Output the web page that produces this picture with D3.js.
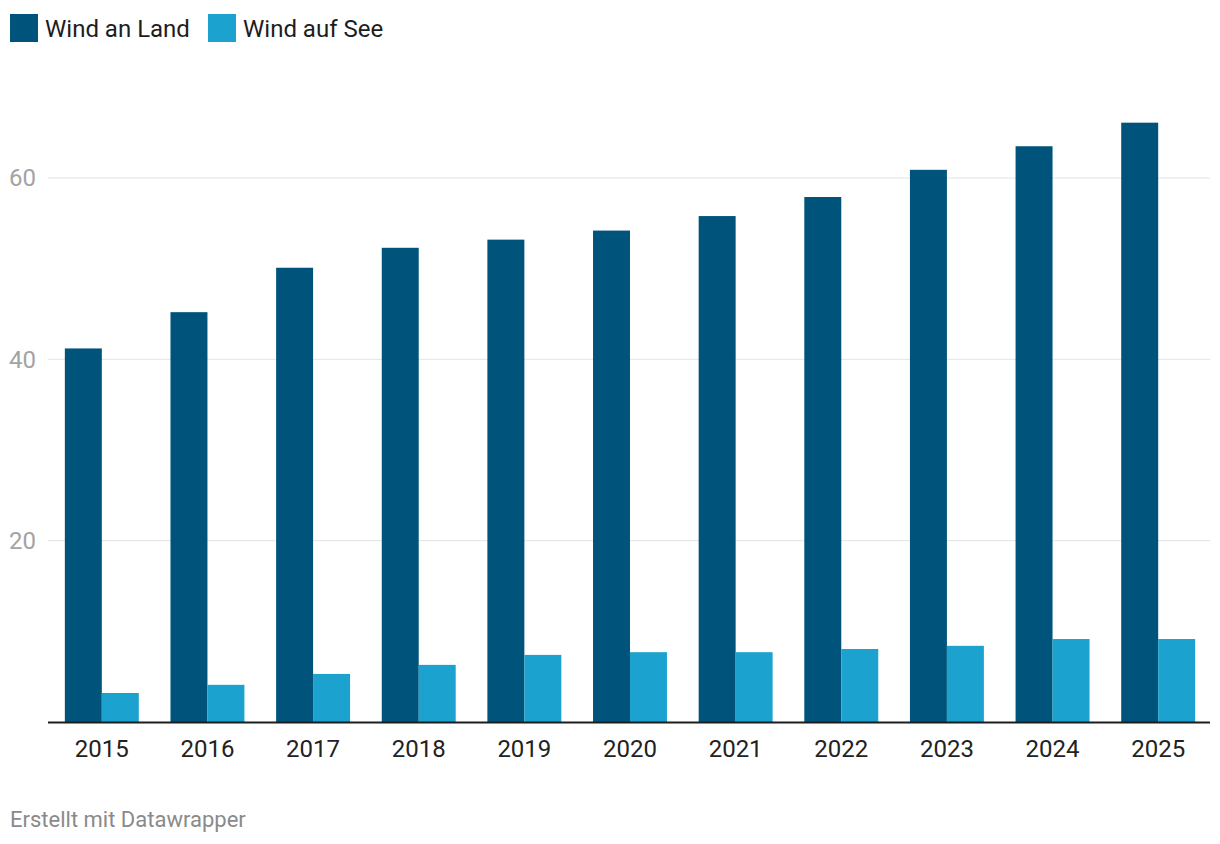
<!DOCTYPE html>
<html>
<head>
<meta charset="utf-8">
<script src="https://cdn.jsdelivr.net/npm/d3@7"></script>
<style>
  body { margin: 0; background: #fff; font-family: Roboto, "Noto Sans", sans-serif; }
</style>
</head>
<body>
<svg id="chart"></svg>
<script>
// Data
const years = ["2015", "2016", "2017", "2018", "2019", "2020", "2021", "2022", "2023", "2024", "2025"];
const windLand = [41.2, 45.2, 50.1, 52.3, 53.2, 54.2, 55.8, 57.9, 60.9, 63.5, 66.1];
const windSee = [3.2, 4.1, 5.3, 6.3, 7.4, 7.7, 7.7, 8.05, 8.4, 9.15, 9.15];
const seriesNames = ["Wind an Land", "Wind auf See"];
const yTicks = [20, 40, 60];

const width = 1220;
const height = 844;
const colors = ["#00547b", "#1ba2cf"];

const svg = d3.select("#chart")
    .attr("width", width)
    .attr("height", height);

// Scales
const x = d3.scaleBand()
    .domain(years)
    .range([49, 1211])
    .paddingInner(0.3)
    .paddingOuter(0.15);

const xSub = d3.scaleBand()
    .domain(seriesNames)
    .range([0, x.bandwidth()]);

const y = d3.scaleLinear()
    .domain([0, 70])
    .range([722, 722 - 70 * 9.067]);

// Gridlines + y labels
const grid = svg.append("g");
grid.selectAll("line")
    .data(yTicks)
    .enter()
    .append("line")
    .attr("x1", 48)
    .attr("x2", 1210)
    .attr("y1", d => y(d))
    .attr("y2", d => y(d))
    .attr("stroke", "#e3e3e3")
    .attr("stroke-width", 1);

grid.selectAll("text")
    .data(yTicks)
    .enter()
    .append("text")
    .attr("x", 9)
    .attr("y", d => y(d) + 8.5)
    .attr("fill", "#a3a3a3")
    .attr("font-size", 24)
    .text(d => d);

// Bars
const rows = years.map((yr, i) => ({ year: yr, values: [windLand[i], windSee[i]] }));

const groups = svg.selectAll(".group")
    .data(rows)
    .enter()
    .append("g")
    .attr("transform", d => `translate(${x(d.year)},0)`);

groups.selectAll("rect")
    .data(d => d.values.map((v, j) => ({ key: seriesNames[j], value: v, j: j })))
    .enter()
    .append("rect")
    .attr("x", d => xSub(d.key))
    .attr("width", xSub.bandwidth())
    .attr("y", d => y(d.value))
    .attr("height", d => y(0) - y(d.value))
    .attr("fill", d => colors[d.j]);

// X axis
svg.append("line")
    .attr("x1", 48)
    .attr("x2", 1210)
    .attr("y1", y(0) + 0.5)
    .attr("y2", y(0) + 0.5)
    .attr("stroke", "#1d1d1d")
    .attr("stroke-width", 2);

svg.selectAll(".xlabel")
    .data(years)
    .enter()
    .append("text")
    .attr("x", d => x(d) + x.bandwidth() / 2)
    .attr("y", 757)
    .attr("text-anchor", "middle")
    .attr("fill", "#222")
    .attr("font-size", 24)
    .text(d => d);

// Legend
const legendX = [10, 208];
const legend = svg.selectAll(".legend")
    .data(seriesNames)
    .enter()
    .append("g")
    .attr("transform", (d, i) => `translate(${legendX[i]},14)`);

legend.append("rect")
    .attr("width", 28)
    .attr("height", 28)
    .attr("fill", (d, i) => colors[i]);

legend.append("text")
    .attr("x", 35)
    .attr("y", 22.5)
    .attr("font-size", 24)
    .attr("fill", "#1d1d1d")
    .text(d => d);

// Footer
svg.append("text")
    .attr("x", 10)
    .attr("y", 827)
    .attr("font-size", 22)
    .attr("fill", "#8a8a8a")
    .text("Erstellt mit Datawrapper");
</script>
</body>
</html>
